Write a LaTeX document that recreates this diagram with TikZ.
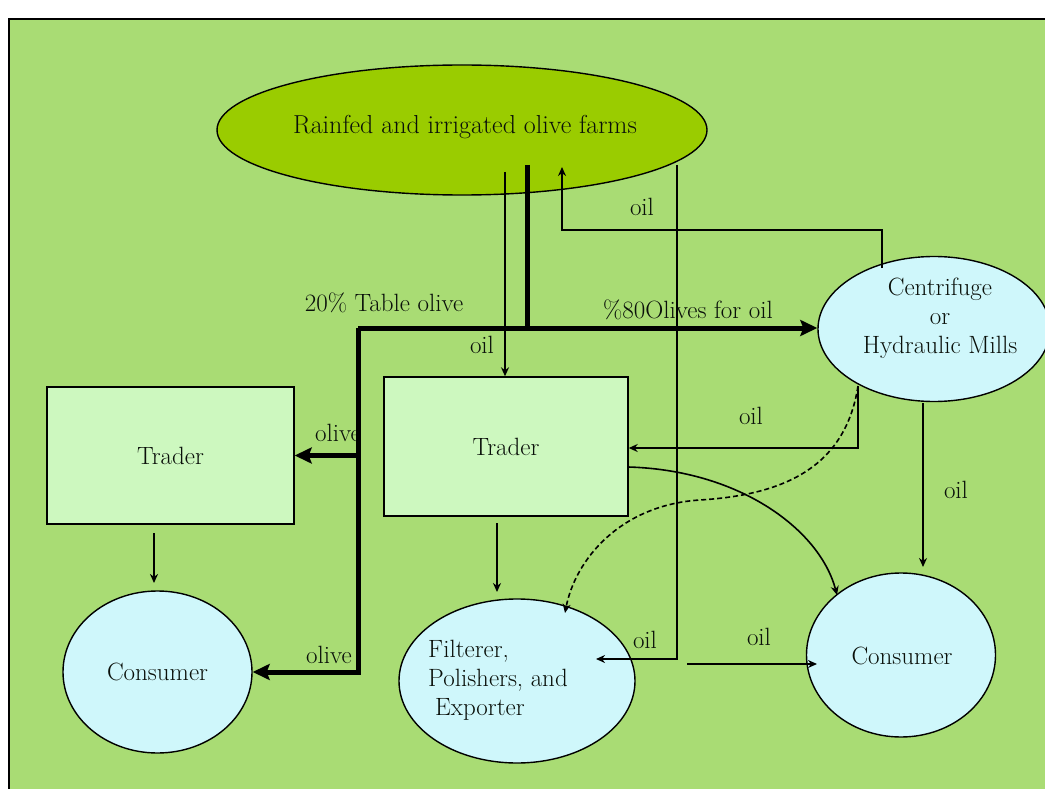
\documentclass[tikz,border=0pt]{standalone}
\usepackage{fontspec}
\usetikzlibrary{arrows.meta,shapes.geometric}
\definecolor{bg}{HTML}{A9DC74}
\definecolor{farmfill}{HTML}{9ACC00}
\definecolor{boxfill}{HTML}{CDF8BF}
\definecolor{ellfill}{HTML}{CFF7FB}
\definecolor{ink}{HTML}{0A100A}
\tikzset{
  lbl/.style={font=\fontsize{25}{29}\selectfont, text=ink, inner sep=0pt},
  farmshape/.style={ellipse, draw=black, line width=1.4pt, fill=farmfill, inner sep=0pt},
  ellshape/.style={ellipse, draw=black, line width=1.4pt, fill=ellfill, inner sep=0pt},
  boxshape/.style={rectangle, draw=black, line width=1.4pt, fill=boxfill, inner sep=0pt,
    font=\fontsize{25}{29}\selectfont, text=ink},
  thinline/.style={draw=black, line width=1.6pt},
  thinarrow/.style={thinline, -{Stealth[length=9pt,width=8pt]}},
  thickline/.style={draw=black, line width=5pt},
  thickarrow/.style={thickline, -{Stealth[length=17pt,width=16pt,inset=3pt]}},
  dashline/.style={draw=black, line width=1.6pt, dash pattern=on 5pt off 3pt,
    -{Stealth[length=9pt,width=8pt]}}
}
\begin{document}
\begin{tikzpicture}[x=1pt,y=-1pt]
\useasboundingbox (0,0) rectangle (1045,789);
\fill[white] (0,0) rectangle (1045,789);
\draw[line width=2.2pt, fill=bg] (9,19) rectangle (1060,800);

% shapes
\node[farmshape, minimum width=490pt, minimum height=130pt] (farm) at (462,130) {};
\node[lbl, font=\fontsize{26}{30}\selectfont] (farmtxt) at (465,127) {Rainfed and irrigated olive farms};

\node[ellshape, minimum width=232pt, minimum height=145pt] (mill) at (934,329) {};
\node[lbl, align=center] (milltxt) at (940,318) {Centrifuge\\or\\Hydraulic Mills};

\node[boxshape, minimum width=247pt, minimum height=137pt] (trader1) at (170.5,455.5) {Trader};
\node[boxshape, minimum width=244pt, minimum height=139pt] (trader2) at (506,446.5) {Trader};

\node[ellshape, minimum width=189pt, minimum height=162pt] (cons1) at (157.5,672) {};
\node[lbl] (cons1txt) at (157.5,672) {Consumer};

\node[ellshape, minimum width=236pt, minimum height=164pt] (filt) at (517,681) {};
\node[lbl, align=left, anchor=north west] (filttxt) at (428,640) {Filterer,\\Polishers, and\\\hspace{7pt}Exporter};

\node[ellshape, minimum width=189pt, minimum height=164pt] (cons2) at (901,655) {};
\node[lbl] (cons2txt) at (902,656) {Consumer};

% labels
\node[lbl] (l1) at (642,207) {oil};
\node[lbl] (l2) at (384,303) {{\addfontfeatures{Numbers=OldStyle}20}\% Table olive};
\node[lbl] (l3) at (482,345) {oil};
\node[lbl] (l4) at (688,310) {\%80Olives for oil};
\node[lbl] (l5) at (338,433) {olive};
\node[lbl] (l6) at (329,655) {olive};
\node[lbl] (l7) at (751,416) {oil};
\node[lbl] (l8) at (956,490) {oil};
\node[lbl] (l9) at (645,640) {oil};
\node[lbl] (l10) at (759,637) {oil};

% coordinates
\coordinate (stem) at (527,165);
\coordinate (j1) at (527,328);
\coordinate (jl) at (358,328);
\coordinate (fa) at (505,172);
\coordinate (fb) at (677,165);
\coordinate (fbend) at (677,659);
\coordinate (filtin) at (596,659);
\coordinate (mup) at (882,268);
\coordinate (mupc) at (882,230);
\coordinate (fupc) at (562,230);
\coordinate (fup) at (562,167);
\coordinate (mtr) at (858,386);
\coordinate (mtrc) at (858,448);
\coordinate (mcs) at (923,403);
\coordinate (mcse) at (923,567);
\coordinate (t1b) at (154,533);
\coordinate (c1t) at (154,583);
\coordinate (t2b) at (497,523);
\coordinate (ft) at (497,592);
\coordinate (oa) at (687,664);
\coordinate (ob) at (817,664);
\coordinate (tr2out) at (628,467);
\coordinate (c2in) at (837,595);
\coordinate (dmid) at (700,500);
\coordinate (filtdash) at (565,613);

% thick olive flows
\draw[thickline] (stem) -- (j1);
\draw[thickarrow] (jl) -- (jl -| mill.west);
\draw[thickarrow] (jl) |- (cons1.east);
\draw[thickarrow] (jl |- trader1.east) -- (trader1.east);

% thin oil flows
\draw[thinarrow] (fa) -- (fa |- trader2.north);
\draw[thinarrow] (fb) -- (fbend) -- (filtin);
\draw[thinarrow] (mup) -- (mupc) -- (fupc) -- (fup);
\draw[thinarrow] (mtr) -- (mtrc) -- (mtrc -| trader2.east);
\draw[thinarrow] (mcs) -- (mcse);
\draw[thinarrow] (t1b) -- (c1t);
\draw[thinarrow] (t2b) -- (ft);
\draw[thinarrow] (oa) -- (ob);
\draw[thinarrow] (tr2out) .. controls (740,470) and (820,530) .. (c2in);
\draw[dashline] (mtr) .. controls (845,470) and (780,495) .. (dmid)
  .. controls (620,505) and (575,560) .. (filtdash);
\end{tikzpicture}
\end{document}
